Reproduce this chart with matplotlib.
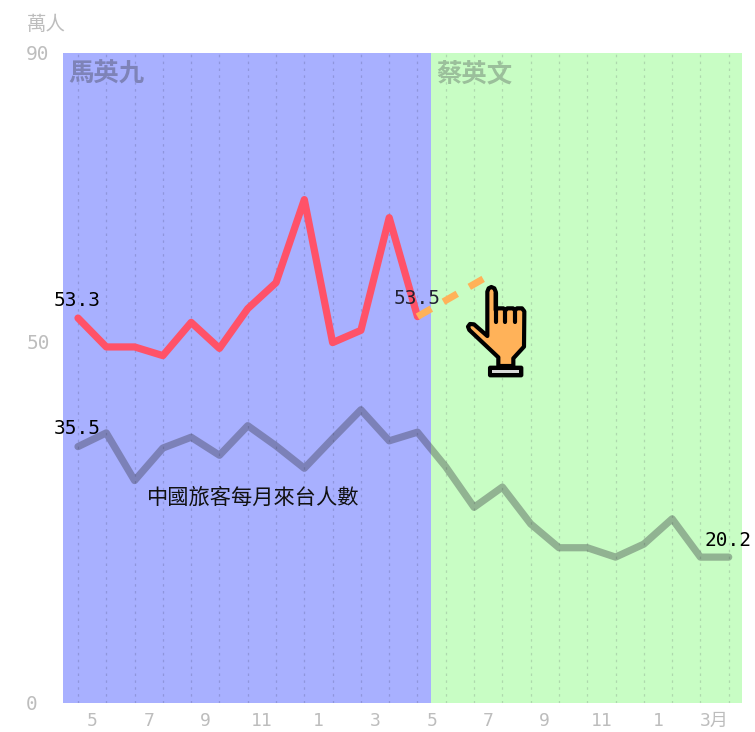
import matplotlib
matplotlib.use("Agg")
import matplotlib.pyplot as plt
from matplotlib.patches import PathPatch, FancyBboxPatch
from matplotlib.path import Path
from matplotlib.transforms import Affine2D

plt.rcParams["font.family"] = ["Noto Sans CJK TC", "DejaVu Sans"]

W, H = 755, 732

months = list(range(24))
tick_pos = [0.5, 2.5, 4.5, 6.5, 8.5, 10.5, 12.5, 14.5, 16.5, 18.5, 20.5, 22.5]
tick_labels = ["5", "7", "9", "11", "1", "3", "5", "7", "9", "11", "1", "3月"]
y_ticks = [0, 50, 90]

red_vals = [53.3, 49.3, 49.3, 48.1, 52.7, 49.1, 54.6, 58.2, 69.7, 49.9, 51.6, 67.2, 53.5]
gray_vals = [35.5, 37.4, 30.8, 35.3, 36.8, 34.3, 38.4, 35.6, 32.5, 36.6, 40.6, 36.3,
             37.5, 32.7, 27.1, 29.9, 24.8, 21.5, 21.5, 20.2, 22.0, 25.5, 20.2, 20.2]
arrow_x = [12, 14.4]
arrow_y = [53.5, 58.9]

BLUE = "#a8b0ff"
GREEN = "#c8fdc4"
TICK = "#bdbdbd"
MONO = "DejaVu Sans Mono"

fig = plt.figure(figsize=(W / 100, H / 100), dpi=100)
ax = fig.add_axes([63 / W, 1 - 703 / H, (742 - 63) / W, (703 - 53) / H])
ax.set_xlim(-0.53, 23.47)
ax.set_ylim(0, 90)
for s in ax.spines.values():
    s.set_visible(False)

ax.axvspan(-0.53, 12.48, color=BLUE, lw=0, zorder=0)
ax.axvspan(12.48, 23.47, color=GREEN, lw=0, zorder=0)

# dotted month lines
for m in months:
    col = "#8f96dc" if m <= 12 else "#aed8ad"
    ax.axvline(m, color=col, lw=0.9, ls=(0, (2, 3.5)), zorder=1)

ax.plot(months, gray_vals, color="#30303a", alpha=0.36, lw=5.2,
        solid_joinstyle="round", solid_capstyle="round", zorder=2)
ax.plot(months[:13], red_vals, color="#ff5268", lw=5.2,
        solid_joinstyle="round", solid_capstyle="round", zorder=3)
ax.plot(arrow_x, arrow_y, color="#ffb259", lw=5, ls=(0, (2.3, 2.0)), zorder=4)

ax.set_xticks(tick_pos)
ax.set_xticklabels(tick_labels, family=[MONO, "Noto Sans CJK TC"], fontsize=13, color=TICK)
ax.set_yticks(y_ticks)
ax.set_yticklabels([str(v) for v in y_ticks], family=MONO, fontsize=14, color=TICK, ha="left")
ax.tick_params(axis="x", length=0, pad=6.5)
ax.tick_params(axis="y", length=0, pad=26.5)


def label(x, y, txt, **kw):
    # positions given in pixels of the picture
    fig.text(x / W, 1 - y / H, txt, ha=kw.pop("ha", "center"), va="center", **kw)


label(77, 300, "53.3", family=MONO, fontsize=14, color="black")
label(77, 428, "35.5", family=MONO, fontsize=14, color="black")
label(417, 299, "53.5", family=MONO, fontsize=14, color="#222233")
label(728, 540, "20.2", family=MONO, fontsize=14, color="black")
label(253, 498, "中國旅客每月來台人數", fontsize=15.3, color="#111111")
label(106, 74, "馬英九", fontsize=18.3, weight="bold", color="#7e83b8")
label(474, 74, "蔡英文", fontsize=18.3, weight="bold", color="#9bbf9b")
label(46.5, 24, "萬人", fontsize=14, color=TICK)

# hand pointer icon, points are zoomed pixels around the icon
to_fig = Affine2D().scale(1 / 3, 1 / 3).translate(380, 230).scale(1, -1).translate(0, H)
hand = [(355, 382), (268, 300), (264, 290), (270, 282), (282, 283), (322, 318), (322, 185),
        (326, 175), (334, 171), (343, 175), (347, 185), (347, 240), (353, 235), (370, 235),
        (376, 241), (382, 235), (399, 235), (405, 241), (411, 235), (426, 235), (433, 244),
        (432, 350), (400, 385), (400, 408), (355, 408), (355, 382)]
codes = [Path.MOVETO] + [Path.LINETO] * (len(hand) - 2) + [Path.CLOSEPOLY]
fig.add_artist(PathPatch(Path(hand, codes), facecolor="#ffb259", edgecolor="black", lw=3,
                         joinstyle="round", transform=to_fig))
for fx, top in [(347, 190), (376, 241), (405, 241)]:
    fig.add_artist(plt.Line2D([fx, fx], [top, 275], color="black", lw=3,
                              solid_capstyle="round", transform=to_fig))
fig.add_artist(FancyBboxPatch((327, 410), 100, 29, boxstyle="round,pad=0,rounding_size=4",
                              facecolor="black", edgecolor="black", lw=1.5, transform=to_fig))
fig.add_artist(plt.Rectangle((336, 419), 80, 10, facecolor="#d8d8d8", lw=0, transform=to_fig))

fig.savefig("out.png", dpi=100)
